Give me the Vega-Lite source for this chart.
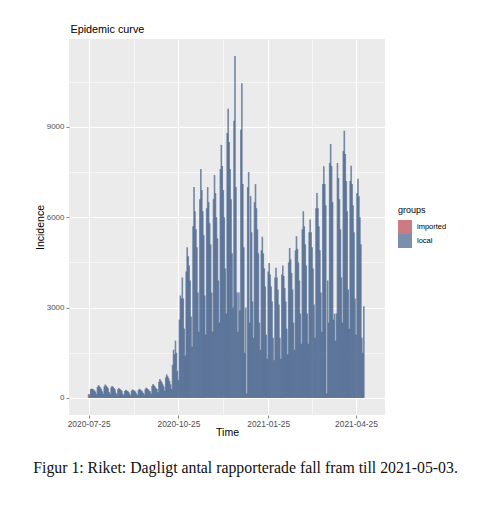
{
  "$schema": "https://vega.github.io/schema/vega-lite/v6.json",
  "background": "white",
  "padding": {"left": 33, "top": 24, "right": 5, "bottom": 5},
  "title": {
    "text": "Figur 1: Riket: Dagligt antal rapporterade fall fram till 2021-05-03.",
    "orient": "bottom",
    "anchor": "start",
    "frame": "bounds",
    "dx": -2,
    "font": "Liberation Serif",
    "fontSize": 15.8,
    "fontWeight": "normal",
    "color": "#111111",
    "offset": 23
  },
  "config": {
    "font": "Liberation Sans",
    "view": {"fill": "#EBEBEB", "stroke": null}
  },
  "data": {
    "values": [
      {"date": "2020-07-25", "local": 50, "imported": 80},
      {"date": "2020-07-26", "local": 110},
      {"date": "2020-07-27", "local": 290},
      {"date": "2020-07-28", "local": 310},
      {"date": "2020-07-29", "local": 300},
      {"date": "2020-07-30", "local": 280},
      {"date": "2020-07-31", "local": 250},
      {"date": "2020-08-01", "local": 210},
      {"date": "2020-08-02", "local": 130},
      {"date": "2020-08-03", "local": 360},
      {"date": "2020-08-04", "local": 420},
      {"date": "2020-08-05", "local": 400},
      {"date": "2020-08-06", "local": 350},
      {"date": "2020-08-07", "local": 300},
      {"date": "2020-08-08", "local": 220},
      {"date": "2020-08-09", "local": 140},
      {"date": "2020-08-10", "local": 380},
      {"date": "2020-08-11", "local": 445},
      {"date": "2020-08-12", "local": 410},
      {"date": "2020-08-13", "local": 370},
      {"date": "2020-08-14", "local": 320},
      {"date": "2020-08-15", "local": 200},
      {"date": "2020-08-16", "local": 130},
      {"date": "2020-08-17", "local": 350},
      {"date": "2020-08-18", "local": 400},
      {"date": "2020-08-19", "local": 370},
      {"date": "2020-08-20", "local": 330},
      {"date": "2020-08-21", "local": 290},
      {"date": "2020-08-22", "local": 170},
      {"date": "2020-08-23", "local": 110},
      {"date": "2020-08-24", "local": 290},
      {"date": "2020-08-25", "local": 330},
      {"date": "2020-08-26", "local": 300},
      {"date": "2020-08-27", "local": 270},
      {"date": "2020-08-28", "local": 240},
      {"date": "2020-08-29", "local": 140},
      {"date": "2020-08-30", "local": 90},
      {"date": "2020-08-31", "local": 230},
      {"date": "2020-09-01", "local": 270},
      {"date": "2020-09-02", "local": 250},
      {"date": "2020-09-03", "local": 230},
      {"date": "2020-09-04", "local": 200},
      {"date": "2020-09-05", "local": 140},
      {"date": "2020-09-06", "local": 90},
      {"date": "2020-09-07", "local": 240},
      {"date": "2020-09-08", "local": 280},
      {"date": "2020-09-09", "local": 260},
      {"date": "2020-09-10", "local": 240},
      {"date": "2020-09-11", "local": 210},
      {"date": "2020-09-12", "local": 150},
      {"date": "2020-09-13", "local": 100},
      {"date": "2020-09-14", "local": 260},
      {"date": "2020-09-15", "local": 300},
      {"date": "2020-09-16", "local": 280},
      {"date": "2020-09-17", "local": 250},
      {"date": "2020-09-18", "local": 220},
      {"date": "2020-09-19", "local": 170},
      {"date": "2020-09-20", "local": 110},
      {"date": "2020-09-21", "local": 290},
      {"date": "2020-09-22", "local": 340},
      {"date": "2020-09-23", "local": 310},
      {"date": "2020-09-24", "local": 290},
      {"date": "2020-09-25", "local": 250},
      {"date": "2020-09-26", "local": 220},
      {"date": "2020-09-27", "local": 140},
      {"date": "2020-09-28", "local": 400},
      {"date": "2020-09-29", "local": 460},
      {"date": "2020-09-30", "local": 420},
      {"date": "2020-10-01", "local": 380},
      {"date": "2020-10-02", "local": 330},
      {"date": "2020-10-03", "local": 300},
      {"date": "2020-10-04", "local": 190},
      {"date": "2020-10-05", "local": 540},
      {"date": "2020-10-06", "local": 630},
      {"date": "2020-10-07", "local": 580},
      {"date": "2020-10-08", "local": 520},
      {"date": "2020-10-09", "local": 450},
      {"date": "2020-10-10", "local": 380},
      {"date": "2020-10-11", "local": 240},
      {"date": "2020-10-12", "local": 680},
      {"date": "2020-10-13", "local": 780},
      {"date": "2020-10-14", "local": 720},
      {"date": "2020-10-15", "local": 650},
      {"date": "2020-10-16", "local": 560},
      {"date": "2020-10-17", "local": 450},
      {"date": "2020-10-18", "local": 300},
      {"date": "2020-10-19", "local": 1100},
      {"date": "2020-10-20", "local": 1600},
      {"date": "2020-10-21", "local": 1450},
      {"date": "2020-10-22", "local": 1900},
      {"date": "2020-10-23", "local": 1500},
      {"date": "2020-10-24", "local": 900},
      {"date": "2020-10-25", "local": 600},
      {"date": "2020-10-26", "local": 2600},
      {"date": "2020-10-27", "local": 3400},
      {"date": "2020-10-28", "local": 3300},
      {"date": "2020-10-29", "local": 4000},
      {"date": "2020-10-30", "local": 3300},
      {"date": "2020-10-31", "local": 2300},
      {"date": "2020-11-01", "local": 1400},
      {"date": "2020-11-02", "local": 4200},
      {"date": "2020-11-03", "local": 5000},
      {"date": "2020-11-04", "local": 4700},
      {"date": "2020-11-05", "local": 4400},
      {"date": "2020-11-06", "local": 3900},
      {"date": "2020-11-07", "local": 2700},
      {"date": "2020-11-08", "local": 1700},
      {"date": "2020-11-09", "local": 5700},
      {"date": "2020-11-10", "local": 7000},
      {"date": "2020-11-11", "local": 6200},
      {"date": "2020-11-12", "local": 5600},
      {"date": "2020-11-13", "local": 5000},
      {"date": "2020-11-14", "local": 3500},
      {"date": "2020-11-15", "local": 2200},
      {"date": "2020-11-16", "local": 6600},
      {"date": "2020-11-17", "local": 7600},
      {"date": "2020-11-18", "local": 6900},
      {"date": "2020-11-19", "local": 6200},
      {"date": "2020-11-20", "local": 5400},
      {"date": "2020-11-21", "local": 3400},
      {"date": "2020-11-22", "local": 2100},
      {"date": "2020-11-23", "local": 6300},
      {"date": "2020-11-24", "local": 7000},
      {"date": "2020-11-25", "local": 6500},
      {"date": "2020-11-26", "local": 5800},
      {"date": "2020-11-27", "local": 5100},
      {"date": "2020-11-28", "local": 3500},
      {"date": "2020-11-29", "local": 2200},
      {"date": "2020-11-30", "local": 6600},
      {"date": "2020-12-01", "local": 7400},
      {"date": "2020-12-02", "local": 6800},
      {"date": "2020-12-03", "local": 6000},
      {"date": "2020-12-04", "local": 5300},
      {"date": "2020-12-05", "local": 3900},
      {"date": "2020-12-06", "local": 2500},
      {"date": "2020-12-07", "local": 7600},
      {"date": "2020-12-08", "local": 8400},
      {"date": "2020-12-09", "local": 7700},
      {"date": "2020-12-10", "local": 6900},
      {"date": "2020-12-11", "local": 6000},
      {"date": "2020-12-12", "local": 4300},
      {"date": "2020-12-13", "local": 2800},
      {"date": "2020-12-14", "local": 8800},
      {"date": "2020-12-15", "local": 9600},
      {"date": "2020-12-16", "local": 8500},
      {"date": "2020-12-17", "local": 7600},
      {"date": "2020-12-18", "local": 6600},
      {"date": "2020-12-19", "local": 4800},
      {"date": "2020-12-20", "local": 3000},
      {"date": "2020-12-21", "local": 9200},
      {"date": "2020-12-22", "local": 11350},
      {"date": "2020-12-23", "local": 7000},
      {"date": "2020-12-24", "local": 3500},
      {"date": "2020-12-25", "local": 2200},
      {"date": "2020-12-26", "local": 3500},
      {"date": "2020-12-27", "local": 2900},
      {"date": "2020-12-28", "local": 8900},
      {"date": "2020-12-29", "local": 10450},
      {"date": "2020-12-30", "local": 7100},
      {"date": "2020-12-31", "local": 5000},
      {"date": "2021-01-01", "local": 1500},
      {"date": "2021-01-02", "local": 3000},
      {"date": "2021-01-03", "local": 150},
      {"date": "2021-01-04", "local": 7000},
      {"date": "2021-01-05", "local": 7500},
      {"date": "2021-01-06", "local": 2500},
      {"date": "2021-01-07", "local": 6700},
      {"date": "2021-01-08", "local": 5500},
      {"date": "2021-01-09", "local": 3200},
      {"date": "2021-01-10", "local": 2000},
      {"date": "2021-01-11", "local": 6500},
      {"date": "2021-01-12", "local": 7100},
      {"date": "2021-01-13", "local": 6300},
      {"date": "2021-01-14", "local": 5600},
      {"date": "2021-01-15", "local": 4800},
      {"date": "2021-01-16", "local": 2500},
      {"date": "2021-01-17", "local": 1600},
      {"date": "2021-01-18", "local": 4900},
      {"date": "2021-01-19", "local": 5350},
      {"date": "2021-01-20", "local": 4800},
      {"date": "2021-01-21", "local": 4300},
      {"date": "2021-01-22", "local": 3700},
      {"date": "2021-01-23", "local": 2100},
      {"date": "2021-01-24", "local": 1300},
      {"date": "2021-01-25", "local": 4200},
      {"date": "2021-01-26", "local": 4480},
      {"date": "2021-01-27", "local": 4100},
      {"date": "2021-01-28", "local": 3700},
      {"date": "2021-01-29", "local": 3200},
      {"date": "2021-01-30", "local": 2000},
      {"date": "2021-01-31", "local": 1250},
      {"date": "2021-02-01", "local": 4000},
      {"date": "2021-02-02", "local": 4320},
      {"date": "2021-02-03", "local": 4000},
      {"date": "2021-02-04", "local": 3600},
      {"date": "2021-02-05", "local": 3100},
      {"date": "2021-02-06", "local": 2000},
      {"date": "2021-02-07", "local": 1300},
      {"date": "2021-02-08", "local": 4100},
      {"date": "2021-02-09", "local": 4400},
      {"date": "2021-02-10", "local": 4050},
      {"date": "2021-02-11", "local": 3650},
      {"date": "2021-02-12", "local": 3200},
      {"date": "2021-02-13", "local": 2300},
      {"date": "2021-02-14", "local": 1450},
      {"date": "2021-02-15", "local": 4500},
      {"date": "2021-02-16", "local": 4980},
      {"date": "2021-02-17", "local": 4600},
      {"date": "2021-02-18", "local": 4150},
      {"date": "2021-02-19", "local": 3600},
      {"date": "2021-02-20", "local": 2500},
      {"date": "2021-02-21", "local": 1600},
      {"date": "2021-02-22", "local": 4900},
      {"date": "2021-02-23", "local": 5370},
      {"date": "2021-02-24", "local": 4950},
      {"date": "2021-02-25", "local": 4500},
      {"date": "2021-02-26", "local": 3900},
      {"date": "2021-02-27", "local": 2800},
      {"date": "2021-02-28", "local": 1800},
      {"date": "2021-03-01", "local": 5600},
      {"date": "2021-03-02", "local": 6200},
      {"date": "2021-03-03", "local": 5700},
      {"date": "2021-03-04", "local": 5100},
      {"date": "2021-03-05", "local": 4400},
      {"date": "2021-03-06", "local": 2800},
      {"date": "2021-03-07", "local": 1800},
      {"date": "2021-03-08", "local": 5500},
      {"date": "2021-03-09", "local": 5920},
      {"date": "2021-03-10", "local": 5500},
      {"date": "2021-03-11", "local": 5000},
      {"date": "2021-03-12", "local": 4300},
      {"date": "2021-03-13", "local": 3100},
      {"date": "2021-03-14", "local": 2000},
      {"date": "2021-03-15", "local": 6300},
      {"date": "2021-03-16", "local": 6800},
      {"date": "2021-03-17", "local": 6300},
      {"date": "2021-03-18", "local": 5700},
      {"date": "2021-03-19", "local": 4900},
      {"date": "2021-03-20", "local": 3500},
      {"date": "2021-03-21", "local": 2200},
      {"date": "2021-03-22", "local": 7100},
      {"date": "2021-03-23", "local": 7690},
      {"date": "2021-03-24", "local": 7100},
      {"date": "2021-03-25", "local": 6400},
      {"date": "2021-03-26", "local": 150},
      {"date": "2021-03-27", "local": 3900},
      {"date": "2021-03-28", "local": 2500},
      {"date": "2021-03-29", "local": 7800},
      {"date": "2021-03-30", "local": 8430},
      {"date": "2021-03-31", "local": 7700},
      {"date": "2021-04-01", "local": 6500},
      {"date": "2021-04-02", "local": 2600},
      {"date": "2021-04-03", "local": 2800},
      {"date": "2021-04-04", "local": 1900},
      {"date": "2021-04-05", "local": 2800},
      {"date": "2021-04-06", "local": 7800},
      {"date": "2021-04-07", "local": 7300},
      {"date": "2021-04-08", "local": 6600},
      {"date": "2021-04-09", "local": 5600},
      {"date": "2021-04-10", "local": 4000},
      {"date": "2021-04-11", "local": 2500},
      {"date": "2021-04-12", "local": 8200},
      {"date": "2021-04-13", "local": 8870},
      {"date": "2021-04-14", "local": 8100},
      {"date": "2021-04-15", "local": 7200},
      {"date": "2021-04-16", "local": 6200},
      {"date": "2021-04-17", "local": 3600},
      {"date": "2021-04-18", "local": 2300},
      {"date": "2021-04-19", "local": 7200},
      {"date": "2021-04-20", "local": 7710},
      {"date": "2021-04-21", "local": 7100},
      {"date": "2021-04-22", "local": 6400},
      {"date": "2021-04-23", "local": 5500},
      {"date": "2021-04-24", "local": 3300},
      {"date": "2021-04-25", "local": 2100},
      {"date": "2021-04-26", "local": 6800},
      {"date": "2021-04-27", "local": 7280},
      {"date": "2021-04-28", "local": 6700},
      {"date": "2021-04-29", "local": 6000},
      {"date": "2021-04-30", "local": 5100},
      {"date": "2021-05-01", "local": 2000},
      {"date": "2021-05-02", "local": 1500},
      {"date": "2021-05-03", "local": 3040}
    ]
  },
  "vconcat": [
    {
      "width": 316,
      "height": 376,
      "title": {
        "text": "Epidemic curve",
        "anchor": "start",
        "frame": "group",
        "dx": 1.5,
        "font": "Liberation Sans",
        "fontSize": 10.8,
        "fontWeight": "normal",
        "color": "#000000",
        "offset": 4
      },
      "transform": [
        {"fold": ["imported", "local"], "as": ["groups", "count"]}
      ],
      "mark": {"type": "bar", "width": 1.6, "opacity": 0.72},
      "encoding": {
        "x": {
          "field": "date",
          "type": "temporal",
          "title": "Time",
          "scale": {
            "type": "utc",
            "nice": false,
            "domain": [
              {"year": 2020, "month": 7, "date": 10, "utc": true},
              {"year": 2021, "month": 5, "date": 19, "hours": 14, "utc": true}
            ]
          },
          "axis": {
            "values": [
              {"year": 2020, "month": 7, "date": 25, "utc": true},
              {"year": 2020, "month": 9, "date": 9, "utc": true},
              {"year": 2020, "month": 10, "date": 25, "utc": true},
              {"year": 2020, "month": 12, "date": 10, "utc": true},
              {"year": 2021, "month": 1, "date": 25, "utc": true},
              {"year": 2021, "month": 3, "date": 11, "utc": true},
              {"year": 2021, "month": 4, "date": 25, "utc": true}
            ],
            "format": "%Y-%m-%d",
            "labelExpr": "utcdate(datum.value) == 25 ? datum.label : ''",
            "domain": false,
            "grid": true,
            "gridColor": "#FFFFFF",
            "gridOpacity": 1,
            "gridWidth": {"condition": {"test": "utcdate(datum.value) == 25", "value": 1.1}, "value": 0.55},
            "tickSize": 3,
            "tickColor": "#333333",
            "tickWidth": 0.6,
            "tickOpacity": {"condition": {"test": "utcdate(datum.value) == 25", "value": 1}, "value": 0},
            "labelFont": "Liberation Sans",
            "labelFontSize": 8.4,
            "labelColor": "#4D4D4D",
            "labelPadding": 1.5,
            "labelFlush": false,
            "labelOverlap": false,
            "titleFont": "Liberation Sans",
            "titleFontSize": 10.5,
            "titleFontWeight": "normal",
            "titleColor": "#000000",
            "titlePadding": 0
          }
        },
        "y": {
          "field": "count",
          "type": "quantitative",
          "stack": "zero",
          "title": "Incidence",
          "scale": {"domain": [-567, 11917], "nice": false, "zero": false},
          "axis": {
            "values": [0, 1500, 3000, 4500, 6000, 7500, 9000, 10500],
            "format": "d",
            "labelExpr": "datum.value % 3000 == 0 ? datum.label : ''",
            "domain": false,
            "grid": true,
            "gridColor": "#FFFFFF",
            "gridOpacity": 1,
            "gridWidth": {"condition": {"test": "datum.value % 3000 == 0", "value": 1.1}, "value": 0.55},
            "tickSize": 3,
            "tickColor": "#333333",
            "tickWidth": 0.6,
            "tickOpacity": {"condition": {"test": "datum.value % 3000 == 0", "value": 1}, "value": 0},
            "labelFont": "Liberation Sans",
            "labelFontSize": 8,
            "labelColor": "#4D4D4D",
            "labelPadding": 2,
            "titleFont": "Liberation Sans",
            "titleFontSize": 10.5,
            "titleFontWeight": "normal",
            "titleColor": "#000000",
            "titlePadding": 1
          }
        },
        "color": {
          "field": "groups",
          "type": "nominal",
          "scale": {"domain": ["imported", "local"], "range": ["#b5434c", "#42608a"]},
          "legend": {
            "title": "groups",
            "orient": "none",
            "legendX": 329,
            "legendY": 167,
            "symbolType": "square",
            "symbolSize": 196,
            "symbolStrokeWidth": 0,
            "symbolOpacity": 0.7,
            "rowPadding": 0,
            "titleFont": "Liberation Sans",
            "titleFontSize": 9,
            "titleFontWeight": "normal",
            "titleColor": "#000000",
            "titlePadding": 5,
            "labelFont": "Liberation Sans",
            "labelFontSize": 7.5,
            "labelColor": "#000000",
            "labelOffset": 5
          }
        },
        "order": {"field": "groups", "sort": "descending"}
      }
    }
  ],
  "resolve": {"legend": {"color": "independent"}}
}
